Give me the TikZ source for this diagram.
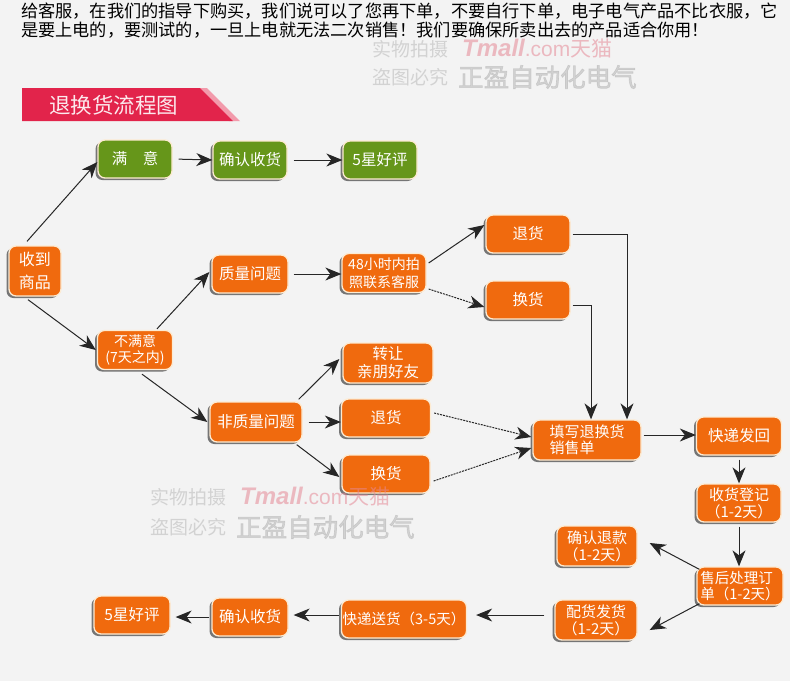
\documentclass[tikz,border=0pt]{standalone}
\usepackage{fontspec}
\setmainfont{Noto Sans CJK SC}
\newfontfamily\cjkb[FakeBold=2.5]{Noto Sans CJK SC}
\newfontfamily\latinsans{Liberation Sans}
\usetikzlibrary{arrows.meta,shadows,calc}
\definecolor{orng}{HTML}{F06A0E}
\definecolor{grn}{HTML}{66961A}
\definecolor{cream}{HTML}{FDEBD2}
\definecolor{bg}{HTML}{F3F3F3}
\definecolor{hdr}{HTML}{E2244B}
\definecolor{hdrlight}{HTML}{F29AAB}
\definecolor{wmgray}{HTML}{B8B8B8}
\definecolor{wmpink}{HTML}{E58896}
\begin{document}
\begin{tikzpicture}[x=1pt,y=-1pt,
 box/.style={rounded corners=7pt, fill=orng, draw=cream, line width=1.3pt, text=white, align=center, inner sep=1pt, minimum height=38pt, font=\fontsize{15.5}{18}\selectfont, drop shadow={shadow xshift=-2.5pt, shadow yshift=-2pt, fill=black!75, opacity=0.7}},
 gbox/.style={box, fill=grn},
 arr/.style={draw=black!85, line width=1pt, -{Stealth[length=16pt,width=13pt,inset=5pt]}},
 dsh/.style={dash pattern=on 2pt off 1pt},
 wm/.style={anchor=west, inner sep=0pt, opacity=0.55},
]
\fill[bg] (0,0) rectangle (790,681);
\useasboundingbox (0,0) rectangle (790,681);

% top text
\node[anchor=west, inner sep=0pt, font=\fontsize{17.2}{20}\selectfont] (t1) at (21,11) {给客服，在我们的指导下购买，我们说可以了您再下单，不要自行下单，电子电气产品不比衣服，它};
\node[anchor=west, inner sep=0pt, font=\fontsize{17.2}{20}\selectfont] (t2) at (21,30) {是要上电的，要测试的，一旦上电就无法二次销售！我们要确保所卖出去的产品适合你用！};

% header
\fill[hdrlight] (196,88) -- (207,88) -- (240,121) -- (229,121) -- cycle;
\fill[hdr] (22,88) -- (200,88) -- (233,121) -- (22,121) -- cycle;
\node[anchor=west, inner sep=0pt, text=white!90!hdr, font=\fontsize{21.5}{24}\selectfont] (title) at (49,105) {退换货流程图};

% nodes
\node[box, minimum width=52pt, minimum height=50pt, font=\fontsize{16}{23}\selectfont] (shou) at (35,271) {收到\\商品};
\node[gbox, minimum width=74pt] (manyi) at (135,159) {满\hspace{1em}意};
\node[gbox, minimum width=74pt] (quer1) at (250,160) {确认收货};
\node[gbox, minimum width=74pt] (hp1) at (380,160) {5星好评};
\node[box, minimum width=76pt] (zhiliang) at (250,274) {质量问题};
\node[box, minimum width=84pt, minimum height=39pt, font=\fontsize{14}{18}\selectfont] (k48) at (384,273) {48小时内拍\\照联系客服};
\node[box, minimum width=84pt] (th1) at (528,234) {退货};
\node[box, minimum width=84pt] (hh1) at (528,300) {换货};
\node[box, minimum width=75pt, minimum height=39pt, font=\fontsize{14}{16}\selectfont] (bmy) at (135,350) {不满意\\(7天之内)};
\node[box, minimum width=90pt, minimum height=40pt, font=\fontsize{15.5}{18}\selectfont] (zr) at (388,363) {转让\\亲朋好友};
\node[box, minimum width=92pt, minimum height=40pt] (fzl) at (256,422) {非质量问题};
\node[box, minimum width=89pt] (th2) at (386,418) {退货};
\node[box, minimum width=88pt] (hh2) at (386,474) {换货};
\node[box, minimum width=108pt, minimum height=40pt, align=left, font=\fontsize{15}{16.5}\selectfont] (tx) at (587,440) {填写退换货\\销售单};
\node[box, minimum width=85pt] (kdfh) at (739,436) {快递发回};
\node[box, minimum width=84pt, font=\fontsize{15}{17}\selectfont] (shdj) at (739,503) {收货登记\\（1-2天）};
\node[box, minimum width=80pt, minimum height=40pt, font=\fontsize{15}{17}\selectfont] (qrtk) at (597,546) {确认退款\\（1-2天）};
\node[box, minimum width=86pt, align=left, font=\fontsize{14.5}{16}\selectfont] (shcl) at (740,586) {售后处理订\\单（1-2天）};
\node[box, minimum width=82pt, minimum height=40pt, font=\fontsize{15}{17}\selectfont] (phfh) at (596,620) {配货发货\\（1-2天）};
\node[box, minimum width=125pt, font=\fontsize{14.5}{17}\selectfont] (kdsh) at (404,619) {快递送货（3-5天）};
\node[box, minimum width=76pt] (quer2) at (250,617) {确认收货};
\node[box, minimum width=76pt] (hp2) at (132,615) {5星好评};

% connectors
\draw[arr] ([xshift=-8pt,yshift=4pt]shou.north) -- ([yshift=-3pt]manyi.west);
\draw[arr] ([xshift=-7pt,yshift=-3pt]shou.south) -- ([xshift=-1pt]bmy.west);
\draw[arr, shorten <=6pt] (manyi.east) -- (quer1.west);
\draw[arr, shorten <=6pt] (quer1.east) -- (hp1.west);
\draw[arr] ([xshift=22pt,yshift=1pt]bmy.north) -- ([xshift=-2pt,yshift=2pt]zhiliang.west);
\draw[arr, shorten <=5pt] (zhiliang.east) -- (zhiliang.east -| k48.west);
\draw[arr] ([xshift=2pt,yshift=10pt]k48.east) -- ([xshift=-1pt,yshift=9pt]th1.west);
\draw[arr, dsh] ([xshift=2pt,yshift=-16pt]k48.east) -- ([xshift=-1pt,yshift=-7pt]hh1.west);
\draw[arr, shorten <=2pt] (th1.east) -| ([xshift=40pt]tx.north);
\draw[arr, shorten <=2pt] ([yshift=-5pt]hh1.east) -| ([xshift=4pt]tx.north);
\draw[arr] ([xshift=7pt,yshift=-4pt]bmy.south) -- ([xshift=-2pt]fzl.west);
\draw[arr] ([xshift=-4pt,yshift=2pt]fzl.north east) -- ([xshift=-3pt,yshift=4pt]zr.west);
\draw[arr, shorten <=6pt] (fzl.east) -- (fzl.east -| th2.west);
\draw[arr] ([xshift=-6pt,yshift=-2pt]fzl.south east) -- ([xshift=-2pt,yshift=-3pt]hh2.west);
\draw[arr, dsh] ([xshift=3pt,yshift=5pt]th2.east) -- ([xshift=-1pt,yshift=3pt]tx.west);
\draw[arr, dsh] ([xshift=3pt,yshift=-7pt]hh2.east) -- ([xshift=-1pt,yshift=-8pt]tx.west);
\draw[arr, shorten <=2pt] ([yshift=1pt]kdfh.west -| tx.east) -- ([yshift=1pt]kdfh.west);
\draw[arr, shorten <=4pt] (kdfh.south) -- (shdj.north);
\draw[arr, shorten <=4pt] (shdj.south) -- (shdj.south |- shcl.north);
\draw[arr] ([xshift=3pt,yshift=-3pt]shcl.north west) -- ([xshift=12pt,yshift=3pt]qrtk.east);
\draw[arr] ([xshift=3pt,yshift=2pt]shcl.south west) -- ([xshift=12pt,yshift=-10pt]phfh.east);
\draw[arr, shorten <=10pt, shorten >=9pt] ([yshift=5pt]phfh.west) -- ([yshift=5pt]phfh.west -| kdsh.east);
\draw[arr, shorten <=2pt, shorten >=5pt] ([yshift=4pt]kdsh.west) -- ([yshift=4pt]kdsh.west -| quer2.east);
\draw[arr, shorten <=2pt, shorten >=5pt] (quer2.west) -- (quer2.west -| hp2.east);

% watermarks
\node[wm, text=wmgray, font=\fontsize{19}{21}\selectfont] (w1a) at (372,49) {实物拍摄};
\node[wm, text=wmpink] (w1b) at (462,48) {{\latinsans\fontsize{24}{26}\selectfont\bfseries\itshape Tmall}{\latinsans\fontsize{21}{23}\selectfont .com}{\fontsize{21}{23}\selectfont 天猫}};
\node[wm, text=wmgray, font=\fontsize{19}{21}\selectfont] (w1c) at (372,77) {盗图必究};
\node[wm, text=wmgray, font=\cjkb\fontsize{25.5}{27}\selectfont] (w1d) at (458,77) {正盈自动化电气};
\node[wm, text=wmgray, font=\fontsize{19}{21}\selectfont] (w2a) at (150,497) {实物拍摄};
\node[wm, text=wmpink] (w2b) at (240,496) {{\latinsans\fontsize{24}{26}\selectfont\bfseries\itshape Tmall}{\latinsans\fontsize{21}{23}\selectfont .com}{\fontsize{21}{23}\selectfont 天猫}};
\node[wm, text=wmgray, font=\fontsize{19}{21}\selectfont] (w2c) at (150,527) {盗图必究};
\node[wm, text=wmgray, font=\cjkb\fontsize{25.5}{27}\selectfont] (w2d) at (236,527) {正盈自动化电气};
\end{tikzpicture}
\end{document}
